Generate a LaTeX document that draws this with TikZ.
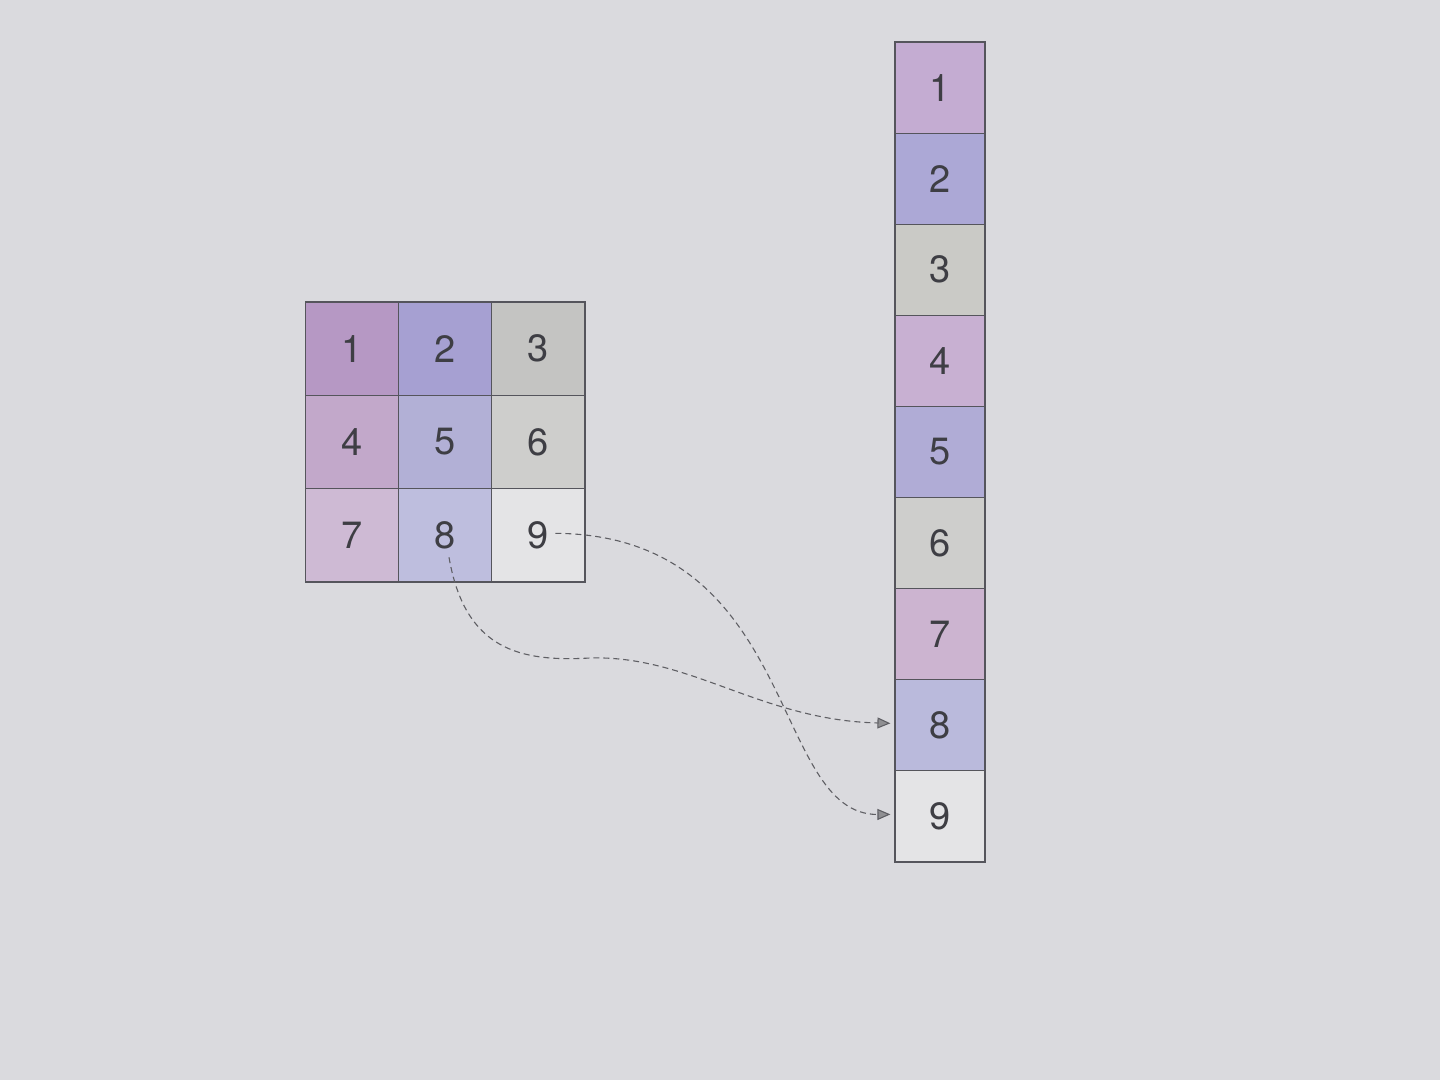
\documentclass[tikz,border=0pt]{standalone}
\usepackage{fontspec}
\setmainfont{TeX Gyre Heros}
\usetikzlibrary{arrows.meta}
\definecolor{paper}{RGB}{218,218,222}
\definecolor{pA}{RGB}{182,152,196}
\definecolor{pB}{RGB}{194,168,202}
\definecolor{pC}{RGB}{206,186,212}
\definecolor{bA}{RGB}{166,160,210}
\definecolor{bB}{RGB}{178,176,214}
\definecolor{bC}{RGB}{190,190,222}
\definecolor{gA}{RGB}{196,196,194}
\definecolor{gB}{RGB}{206,206,204}
\definecolor{wC}{RGB}{228,228,230}
\definecolor{cpA}{RGB}{196,172,210}
\definecolor{cbA}{RGB}{172,168,214}
\definecolor{cgA}{RGB}{202,202,198}
\definecolor{cpB}{RGB}{200,176,210}
\definecolor{cbB}{RGB}{176,172,214}
\definecolor{cgB}{RGB}{206,206,204}
\definecolor{cpC}{RGB}{204,180,208}
\definecolor{cbC}{RGB}{186,186,220}
\definecolor{txt}{RGB}{62,62,68}
\definecolor{edge}{RGB}{85,85,92}
\definecolor{arr}{RGB}{95,95,100}
\tikzset{
  gcell/.style={draw=edge, line width=0.6pt, inner sep=0pt, minimum width=46.6pt, minimum height=46.6pt,
    text=txt, font=\fontsize{19pt}{21pt}\selectfont},
  ccell/.style={draw=edge, line width=0.6pt, inner sep=0pt, minimum width=45pt, minimum height=45.55pt,
    text=txt, font=\fontsize{19pt}{21pt}\selectfont},
  flow/.style={draw=arr, line width=0.55pt, dash pattern=on 3pt off 2pt,
    -{Triangle[length=6.5pt,width=5.5pt,fill=arr!70]}}
}
\begin{document}
\begin{tikzpicture}[x=0.5pt,y=-0.5pt]
\fill[paper] (0,0) rectangle (1440,1080);
\useasboundingbox (0,0) rectangle (1440,1080);
% 3x3 grid
\node[gcell, fill=pA] (g1) at (351.7,348.7) {1};
\node[gcell, fill=bA] (g2) at (445,348.7) {2};
\node[gcell, fill=gA] (g3) at (538.3,348.7) {3};
\node[gcell, fill=pB] (g4) at (351.7,442) {4};
\node[gcell, fill=bB] (g5) at (445,442) {5};
\node[gcell, fill=gB] (g6) at (538.3,442) {6};
\node[gcell, fill=pC] (g7) at (351.7,535.3) {7};
\node[gcell, fill=bC] (g8) at (445,535.3) {8};
\node[gcell, fill=wC] (g9) at (538.3,535.3) {9};
% column
\node[ccell, fill=cpA] (c1) at (940,87.6) {1};
\node[ccell, fill=cbA] (c2) at (940,178.7) {2};
\node[ccell, fill=cgA] (c3) at (940,269.8) {3};
\node[ccell, fill=cpB] (c4) at (940,360.9) {4};
\node[ccell, fill=cbB] (c5) at (940,452) {5};
\node[ccell, fill=cgB] (c6) at (940,543.1) {6};
\node[ccell, fill=cpC] (c7) at (940,634.2) {7};
\node[ccell, fill=cbC] (c8) at (940,725.3) {8};
\node[ccell, fill=wC] (c9) at (940,816.4) {9};
% connectors
\coordinate (s9) at ([xshift=8.5pt,yshift=1pt]g9.center);
\coordinate (s8) at ([xshift=2pt,yshift=-11pt]g8.center);
\coordinate (m8) at (590,658);
\draw[flow] (s9) .. controls (800,535) and (770,815) .. ([xshift=-2pt,yshift=1pt]c9.west);
\draw[flow] (s8) .. controls (465,650) and (520,662) .. (m8)
  .. controls (690,655) and (760,720) .. ([xshift=-2pt,yshift=1pt]c8.west);
\end{tikzpicture}
\end{document}
